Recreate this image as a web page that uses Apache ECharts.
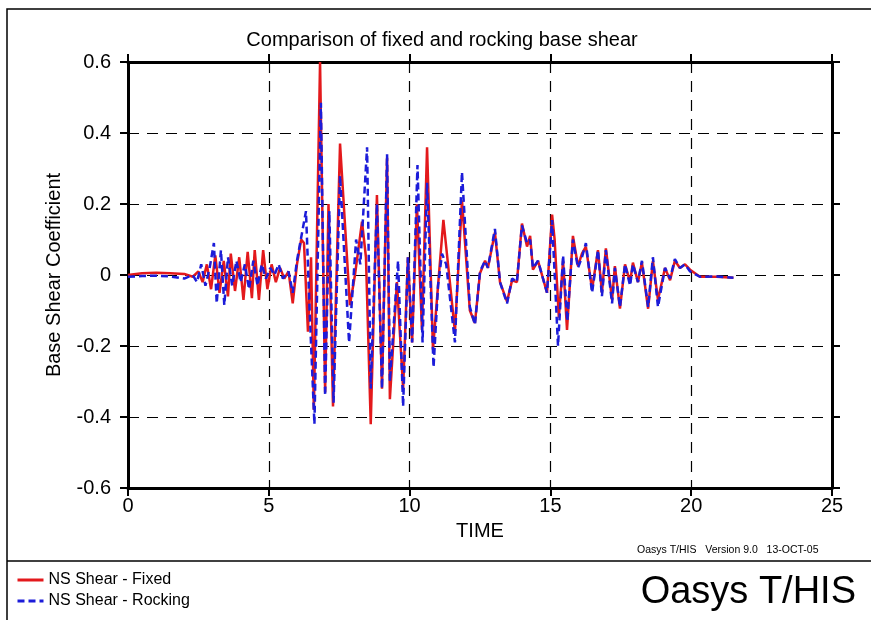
<!DOCTYPE html>
<html>
<head>
<meta charset="utf-8">
<title>Comparison of fixed and rocking base shear</title>
<script src="https://cdn.jsdelivr.net/npm/echarts@6/dist/echarts.min.js"></script>
<style>
  html, body { margin: 0; padding: 0; background: #fff; }
  #chart { width: 871px; height: 620px; }
</style>
</head>
<body>
<div id="chart"></div>
<script>
  // NS Shear - Fixed (red, solid)
  const fixedTime = [
    0, 0.5, 1.0, 1.5, 2.0, 2.3, 2.5, 2.65, 2.8, 2.95, 3.1, 3.25, 3.4, 3.55, 3.65, 3.8, 3.95, 4.1, 4.25, 4.4,
    4.5, 4.65, 4.8, 4.95, 5.1, 5.25, 5.4, 5.55, 5.7, 5.85, 6.0, 6.15, 6.25, 6.39, 6.5, 6.6, 6.82, 7.0, 7.12, 7.28,
    7.53, 7.88, 8.06, 8.31, 8.45, 8.62, 8.84, 9.02, 9.2, 9.3, 9.55, 9.77, 9.94, 10.09, 10.26, 10.44, 10.62, 10.83, 11.01, 11.2,
    11.43, 11.61, 11.86, 12.14, 12.32, 12.5, 12.68, 12.78, 13.03, 13.21, 13.46, 13.64, 13.81, 13.99, 14.17, 14.28, 14.38, 14.56, 14.88, 15.06,
    15.15, 15.3, 15.45, 15.59, 15.8, 15.98, 16.12, 16.26, 16.48, 16.69, 16.83, 16.97, 17.19, 17.29, 17.47, 17.65, 17.83, 17.93, 18.11, 18.25,
    18.47, 18.64, 18.82, 19.07, 19.25, 19.42, 19.6, 19.78, 19.96, 20.31, 20.9, 21.5
  ];
  const fixedShear = [
    0, 0.005, 0.006, 0.005, 0.003, -0.005, 0.01, -0.02, 0.03, -0.04, 0.055, -0.05, 0.04, -0.06, 0.06, -0.045, 0.05, -0.07, 0.065, -0.065,
    0.07, -0.07, 0.07, -0.04, 0.03, -0.02, 0.02, -0.01, 0.01, -0.08, 0.03, 0.1, 0.09, -0.16, 0.05, -0.38, 0.6, -0.33, 0.2, -0.37,
    0.37, -0.085, 0.0, 0.15, 0.05, -0.42, 0.225, -0.32, 0.33, -0.35, -0.02, -0.32, 0.05, -0.19, 0.2, -0.155, 0.36, -0.21, -0.03, 0.155,
    -0.02, -0.16, 0.21, -0.1, -0.135, 0.005, 0.04, 0.02, 0.12, -0.02, -0.075, -0.015, -0.02, 0.145, 0.08, 0.11, 0.015, 0.04, -0.05, 0.17,
    0.1, -0.12, 0.04, -0.155, 0.11, 0.025, 0.06, 0.08, -0.04, 0.07, -0.05, 0.075, -0.07, 0.025, -0.095, 0.03, -0.02, 0.035, -0.02, 0.035,
    -0.095, 0.04, -0.07, 0.02, -0.015, 0.04, 0.02, 0.03, 0.015, -0.005, -0.005, -0.008
  ];

  // NS Shear - Rocking (blue, dashed)
  const rockingTime = [
    0, 0.5, 1.0, 1.5, 2.0, 2.3, 2.45, 2.6, 2.75, 2.9, 3.05, 3.15, 3.3, 3.42, 3.55, 3.7, 3.85, 4.0, 4.15, 4.3,
    4.45, 4.6, 4.75, 4.9, 5.05, 5.2, 5.35, 5.5, 5.7, 5.85, 6.0, 6.32, 6.45, 6.62, 6.85, 7.0, 7.15, 7.3, 7.53, 7.85,
    8.1, 8.25, 8.49, 8.62, 8.84, 9.02, 9.2, 9.3, 9.59, 9.77, 9.94, 10.09, 10.28, 10.46, 10.62, 10.85, 11.01, 11.15, 11.3, 11.61,
    11.86, 12.14, 12.32, 12.5, 12.68, 12.78, 13.03, 13.21, 13.46, 13.64, 13.81, 13.99, 14.17, 14.28, 14.38, 14.56, 14.88, 15.06, 15.27, 15.45,
    15.6, 15.8, 15.98, 16.12, 16.26, 16.48, 16.69, 16.83, 16.97, 17.19, 17.29, 17.47, 17.65, 17.83, 17.93, 18.11, 18.25, 18.47, 18.64, 18.82,
    19.07, 19.25, 19.42, 19.6, 19.78, 19.96, 20.31, 20.9, 21.5
  ];
  const rockingShear = [
    -0.005, -0.003, -0.002, -0.004, -0.01, 0.0, -0.02, 0.03, -0.03, 0.02, 0.09, -0.08, 0.07, -0.085, 0.05, -0.03, 0.04, -0.02, 0.03, -0.04,
    0.04, -0.03, 0.03, -0.01, 0.02, 0.0, 0.03, -0.01, 0.01, -0.05, 0.04, 0.18, -0.1, -0.42, 0.485, -0.34, 0.18, -0.36, 0.28, -0.19,
    0.1, 0.03, 0.36, -0.32, 0.2, -0.32, 0.34, -0.3, 0.04, -0.37, 0.05, -0.19, 0.31, -0.19, 0.26, -0.26, -0.03, 0.06, 0.03, -0.19,
    0.29, -0.09, -0.14, 0.01, 0.04, 0.02, 0.13, -0.02, -0.08, -0.01, -0.02, 0.14, 0.09, 0.1, 0.02, 0.04, -0.05, 0.155, -0.2, 0.055,
    -0.13, 0.1, 0.02, 0.05, 0.09, -0.05, 0.07, -0.06, 0.07, -0.08, 0.02, -0.09, 0.03, -0.03, 0.03, -0.02, 0.04, -0.09, 0.05, -0.09,
    0.02, -0.01, 0.045, 0.02, 0.03, 0.01, -0.005, -0.004, -0.008
  ];

  const timeTicks = [0, 25, 5];       // min, max, interval
  const shearTicks = [-0.6, 0.6, 0.2];

  const font = "Liberation Sans, Arial, sans-serif";
  const gridDash = { color: "#000", width: 1.2, type: [11, 8] };

  const chart = echarts.init(document.getElementById("chart"), null, { renderer: "canvas" });

  const baseAxis = {
    type: "value",
    axisLine: { show: true, onZero: false, lineStyle: { color: "#000", width: 3 } },
    axisTick: { show: true, length: 8, lineStyle: { color: "#000", width: 2 } },
  };

  const option = {
    backgroundColor: "#fff",
    animation: false,
    title: {
      text: "Comparison of fixed and rocking base shear",
      left: 437,
      textAlign: "center",
      top: 25,
      textStyle: { fontFamily: font, fontSize: 20, fontWeight: "normal", color: "#000" },
    },
    legend: {
      orient: "vertical",
      left: 11,
      top: 567,
      itemWidth: 26,
      itemHeight: 10,
      itemGap: 5,
      itemStyle: { opacity: 0 },
      lineStyle: { width: 3 },
      textStyle: { fontFamily: font, fontSize: 16, color: "#000" },
      data: ["NS Shear - Fixed", "NS Shear - Rocking"],
    },
    grid: { left: 128, right: 39, top: 62, bottom: 132 },
    xAxis: [
      {
        ...baseAxis,
        min: timeTicks[0],
        max: timeTicks[1],
        interval: timeTicks[2],
        position: "bottom",
        name: "TIME",
        nameLocation: "middle",
        nameGap: 33,
        nameTextStyle: { fontFamily: font, fontSize: 20, color: "#000" },
        axisLabel: { fontFamily: font, fontSize: 20, color: "#000", margin: 8 },
        splitLine: { show: true, lineStyle: gridDash },
      },
      {
        ...baseAxis,
        min: timeTicks[0],
        max: timeTicks[1],
        interval: timeTicks[2],
        position: "top",
        axisLabel: { show: false },
        splitLine: { show: false },
      },
    ],
    yAxis: [
      {
        ...baseAxis,
        min: shearTicks[0],
        max: shearTicks[1],
        interval: shearTicks[2],
        position: "left",
        name: "Base Shear Coefficient",
        nameLocation: "middle",
        nameGap: 64,
        nameTextStyle: { fontFamily: font, fontSize: 20, color: "#000" },
        axisLabel: { fontFamily: font, fontSize: 20, color: "#000", margin: 17 },
        splitLine: { show: true, lineStyle: gridDash },
      },
      {
        ...baseAxis,
        min: shearTicks[0],
        max: shearTicks[1],
        interval: shearTicks[2],
        position: "right",
        axisLabel: { show: false },
        splitLine: { show: false },
      },
    ],
    series: [
      {
        name: "NS Shear - Fixed",
        type: "line",
        symbol: "none",
        smooth: false,
        color: "#e3191c",
        lineStyle: { color: "#e3191c", width: 2.5 },
        data: fixedTime.map((t, i) => [t, fixedShear[i]]),
      },
      {
        name: "NS Shear - Rocking",
        type: "line",
        symbol: "none",
        smooth: false,
        color: "#1c1cd9",
        lineStyle: { color: "#1c1cd9", width: 2.5, type: [7, 4] },
        data: rockingTime.map((t, i) => [t, rockingShear[i]]),
      },
    ],
    graphic: [
      {
        type: "rect",
        shape: { x: 7, y: 9, width: 870, height: 620 },
        style: { fill: "none", stroke: "#000", lineWidth: 1.5 },
        silent: true,
      },
      {
        type: "line",
        shape: { x1: 7, y1: 561, x2: 871, y2: 561 },
        style: { stroke: "#000", lineWidth: 1.5 },
        silent: true,
      },
      {
        type: "text",
        left: 637,
        top: 545,
        style: { text: "Oasys T/HIS   Version 9.0   13-OCT-05", font: "10.5px " + font, fill: "#000" },
      },
      {
        type: "text",
        right: 15,
        top: 574,
        style: { text: "Oasys T/HIS", font: "38px " + font, fill: "#000" },
      },
    ],
  };

  chart.setOption(option);
</script>
</body>
</html>
